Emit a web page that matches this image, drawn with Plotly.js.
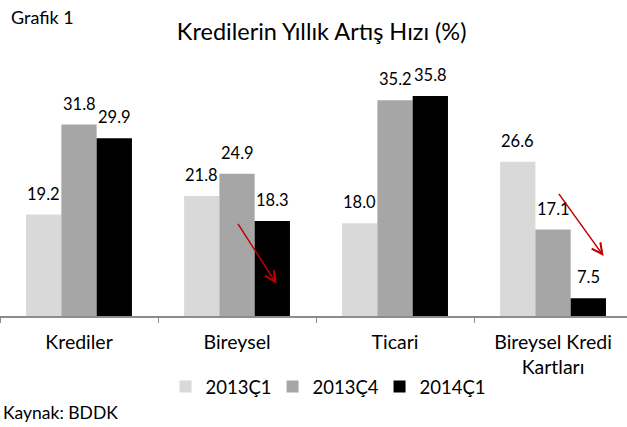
<!DOCTYPE html>
<html>
<head>
<meta charset="utf-8">
<script src="https://cdn.plot.ly/plotly-3.0.1.min.js"></script>
<style>html,body{margin:0;padding:0;background:#fff;overflow:hidden;}</style>
</head>
<body>
<div id="chart" style="width:627px;height:427px;"></div>
<script>
const categories = ["Krediler", "Bireysel", "Ticari", "Bireysel Kredi<br>Kartları"];
const seriesNames = ["2013Ç1", "2013Ç4", "2014Ç1"];
const s2013Q1 = [19.2, 21.8, 18.0, 26.6];
const s2013Q4 = [31.8, 24.9, 35.2, 17.1];
const s2014Q1 = [29.9, 18.3, 35.8, 7.5];
const colors = ["#d9d9d9", "#a6a6a6", "#000000"];

const FONT = "Lato, 'Open Sans', sans-serif";
const BARGAP = 0.33;
const allSeries = [s2013Q1, s2013Q4, s2014Q1];
const traces = allSeries.map((vals, i) => ({
  type: "bar",
  name: seriesNames[i],
  x: categories,
  y: vals,
  marker: {color: colors[i], line: {width: 0}},
  hoverinfo: "skip"
}));

// data labels as annotations, positioned over each bar via the axis scale
const barW = (1 - BARGAP) / allSeries.length;
const labelAnns = [];
allSeries.forEach((vals, i) => {
  vals.forEach((v, j) => {
    labelAnns.push({
      xref: "x", yref: "y", x: j + (i - 1) * barW, y: v,
      text: v.toFixed(1), showarrow: false, xanchor: "center", yanchor: "bottom",
      yshift: 9, font: {family: FONT, size: 16.5, color: "#000"}
    });
  });
});

const layout = {
  width: 627, height: 427,
  margin: {l: 0, r: 0, t: 66, b: 111},
  paper_bgcolor: "#fff", plot_bgcolor: "#fff",
  font: {family: FONT, color: "#000"},
  barmode: "group",
  bargap: BARGAP,
  bargroupgap: 0,
  title: {text: "Kredilerin Yıllık Artış Hızı (%)", font: {family: FONT, size: 23.5, color: "#000"},
          x: 0.513, xanchor: "center", xref: "container", y: 1 - 32/427, yanchor: "middle", yref: "container"},
  xaxis: {
    type: "category",
    range: [-0.5, 3.468],
    showline: true, linecolor: "#8c8c8c", linewidth: 1.5,
    ticks: "outside", tickson: "boundaries", ticklen: 5, tickcolor: "#8c8c8c",
    tickfont: {family: FONT, size: 19.5, color: "#000"},
    ticklabelstandoff: 8,
    showgrid: false, zeroline: false, fixedrange: true
  },
  yaxis: {
    range: [5, 40], visible: false, showgrid: false, zeroline: false, fixedrange: true
  },
  showlegend: true,
  legend: {orientation: "h", x: 0.52, xanchor: "center", y: -0.284, yanchor: "middle",
           font: {family: FONT, size: 18.5, color: "#000"}, itemwidth: 30, traceorder: "normal",
           entrywidth: 62, entrywidthmode: "pixels"},
  annotations: labelAnns.concat([
    {text: "Grafik 1", xref: "paper", yref: "paper", x: 0, y: 1.196, xanchor: "left", yanchor: "middle",
     xshift: 9, showarrow: false, font: {family: FONT, size: 18, color: "#000"}},
    {text: "Kaynak: BDDK", xref: "paper", yref: "paper", x: 0, y: -0.384, xanchor: "left", yanchor: "middle",
     xshift: 1, showarrow: false, font: {family: FONT, size: 17.5, color: "#000"}},
    {xref: "x", yref: "y", axref: "x", ayref: "y", x: 1.25, y: 9.5, ax: 1.0, ay: 18.1, text: "",
     showarrow: true, arrowhead: 5, arrowsize: 1.4, arrowwidth: 1.5, arrowcolor: "#c00000", standoff: 0},
    {xref: "x", yref: "y", axref: "x", ayref: "y", x: 3.32, y: 13.4, ax: 3.03, ay: 22.3, text: "",
     showarrow: true, arrowhead: 5, arrowsize: 1.4, arrowwidth: 1.5, arrowcolor: "#c00000", standoff: 0}
  ])
};

Plotly.newPlot("chart", traces, layout, {displayModeBar: false, staticPlot: true});
</script>
</body>
</html>
